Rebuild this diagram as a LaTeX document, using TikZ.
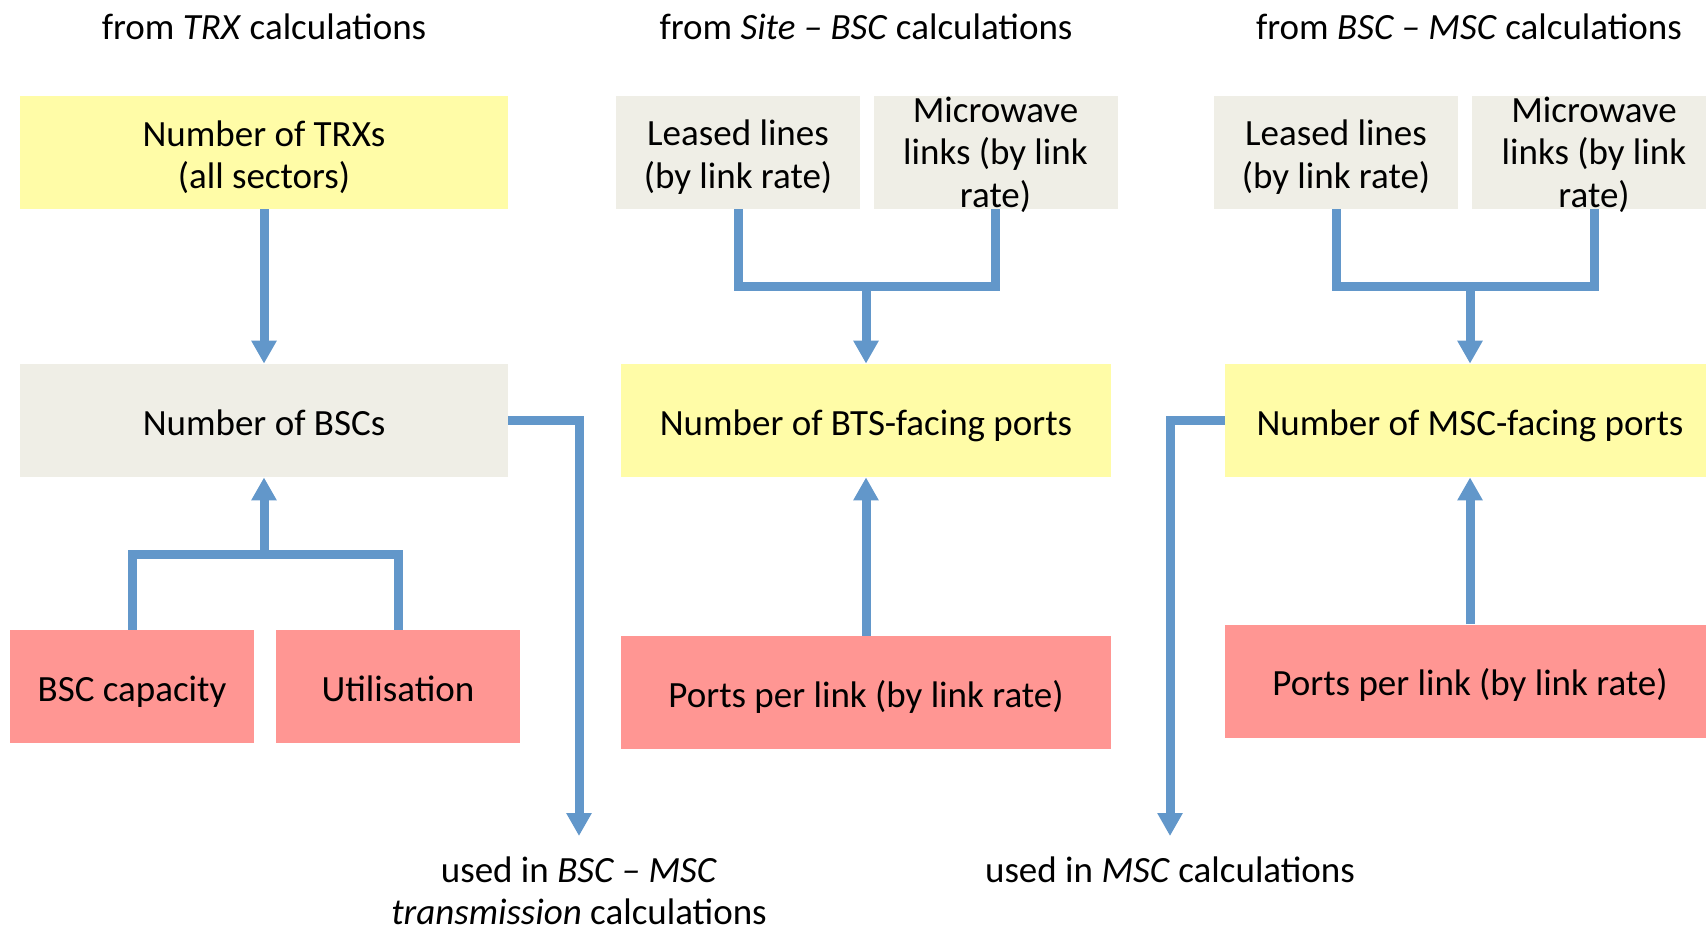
\documentclass[tikz,border=0pt]{standalone}
\usepackage{fontspec}
\setmainfont{Carlito}
\usetikzlibrary{arrows.meta, backgrounds}
\definecolor{amarillo}{HTML}{FFFCA7}
\definecolor{gris}{HTML}{EFEEE6}
\definecolor{rosa}{HTML}{FF9693}
\definecolor{azul}{HTML}{6297CA}
\tikzstyle{linea} = [line width=4.5pt, draw=azul, line join=miter]
\tikzstyle{flecha} = [linea, -{Triangle[width=12pt,length=11.5pt]}]
\tikzstyle{caja} = [rectangle,
                    minimum height=56.5pt,
                    inner sep=0pt,
                    text height=18.2pt,
                    align=center,
                    font=\fontsize{18.5}{21.2}\selectfont]
\tikzstyle{doble} = [text height=38.6pt]
\tikzstyle{resultado} = [caja, fill=amarillo, minimum width=244pt]
\tikzstyle{entrada} = [caja, fill=gris, minimum width=122pt]
\tikzstyle{parametro} = [caja, fill=rosa, minimum width=122pt, text depth=3.7pt]
\tikzstyle{titulo} = [align=center, inner sep=0pt, font=\fontsize{18.5}{21.2}\selectfont]

\begin{document}
\begin{tikzpicture}[x=0.5pt, y=-0.5pt]
        \useasboundingbox (0,0) rectangle (1706,928);

        % columna TRX
        \node (TituloTRX) [titulo] at (264,27) {from \textit{TRX} calculations};
        \node (TRX) [resultado, doble] at (264,152.5) {Number of TRXs\\(all sectors)};
        \node (BSC) [resultado, fill=gris, text depth=3.7pt] at (264,420.5) {Number of BSCs};
        \node (Capacidad) [parametro] at (132,686.5) {BSC capacity};
        \node (Utilizacion) [parametro] at (398,686.5) {Utilisation};

        % columna Site - BSC
        \node (TituloSite) [titulo] at (866,27) {from \textit{Site -- BSC} calculations};
        \node (Leased1) [entrada, doble] at (738,152.5) {Leased lines\\(by link rate)};
        \node (Micro1) [entrada, text height=12.5pt] at (995.5,152.5) {\smash{\begin{tabular}{@{}c@{}}Microwave\\links (by link\\rate)\end{tabular}}};
        \node (BTS) [resultado, minimum width=245pt] at (866,420.5) {Number of BTS-facing ports};
        \node (Puertos1) [parametro, minimum width=245pt] at (866,692.5) {Ports per link (by link rate)};

        % columna BSC - MSC
        \node (TituloMSC) [titulo] at (1469,27) {from \textit{BSC -- MSC} calculations};
        \node (Leased2) [entrada, doble] at (1336,152.5) {Leased lines\\(by link rate)};
        \node (Micro2) [entrada, text height=12.5pt] at (1594,152.5) {\smash{\begin{tabular}{@{}c@{}}Microwave\\links (by link\\rate)\end{tabular}}};
        \node (MSC) [resultado, minimum width=245pt] at (1470,420.5) {Number of MSC-facing ports};
        \node (Puertos2) [parametro, minimum width=245pt] at (1470,681) {Ports per link (by link rate)};

        % salidas
        \node (UsoBSC) [titulo] at (579,891) {used in \textit{BSC -- MSC}\\\textit{transmission} calculations};
        \node (UsoMSC) [titulo] at (1170,870) {used in \textit{MSC} calculations};

        \coordinate (union1) at (264,554);
        \coordinate (union2) at (866,286);
        \coordinate (union3) at (1470,286);
        \coordinate (fin1) at (579,836);
        \coordinate (fin2) at (1170,836);

        \begin{scope}[on background layer]
            \draw [flecha] (TRX) -- (BSC);
            \draw [linea] (Capacidad.north) |- (union1) -| (Utilizacion.north);
            \draw [flecha] (union1) -- (BSC);
            \draw [flecha] (BSC.east) -| (fin1);
            \draw [linea] (Leased1.south) |- (union2) -| (Micro1.south);
            \draw [flecha] (union2) -- (BTS);
            \draw [flecha] (Puertos1) -- (BTS);
            \draw [linea] (Leased2.south) |- (union3) -| (Micro2.south);
            \draw [flecha] (union3) -- (MSC);
            \draw [flecha] (Puertos2) -- (MSC);
            \draw [flecha] (MSC.west) -| (fin2);
        \end{scope}
    \end{tikzpicture}
\end{document}
